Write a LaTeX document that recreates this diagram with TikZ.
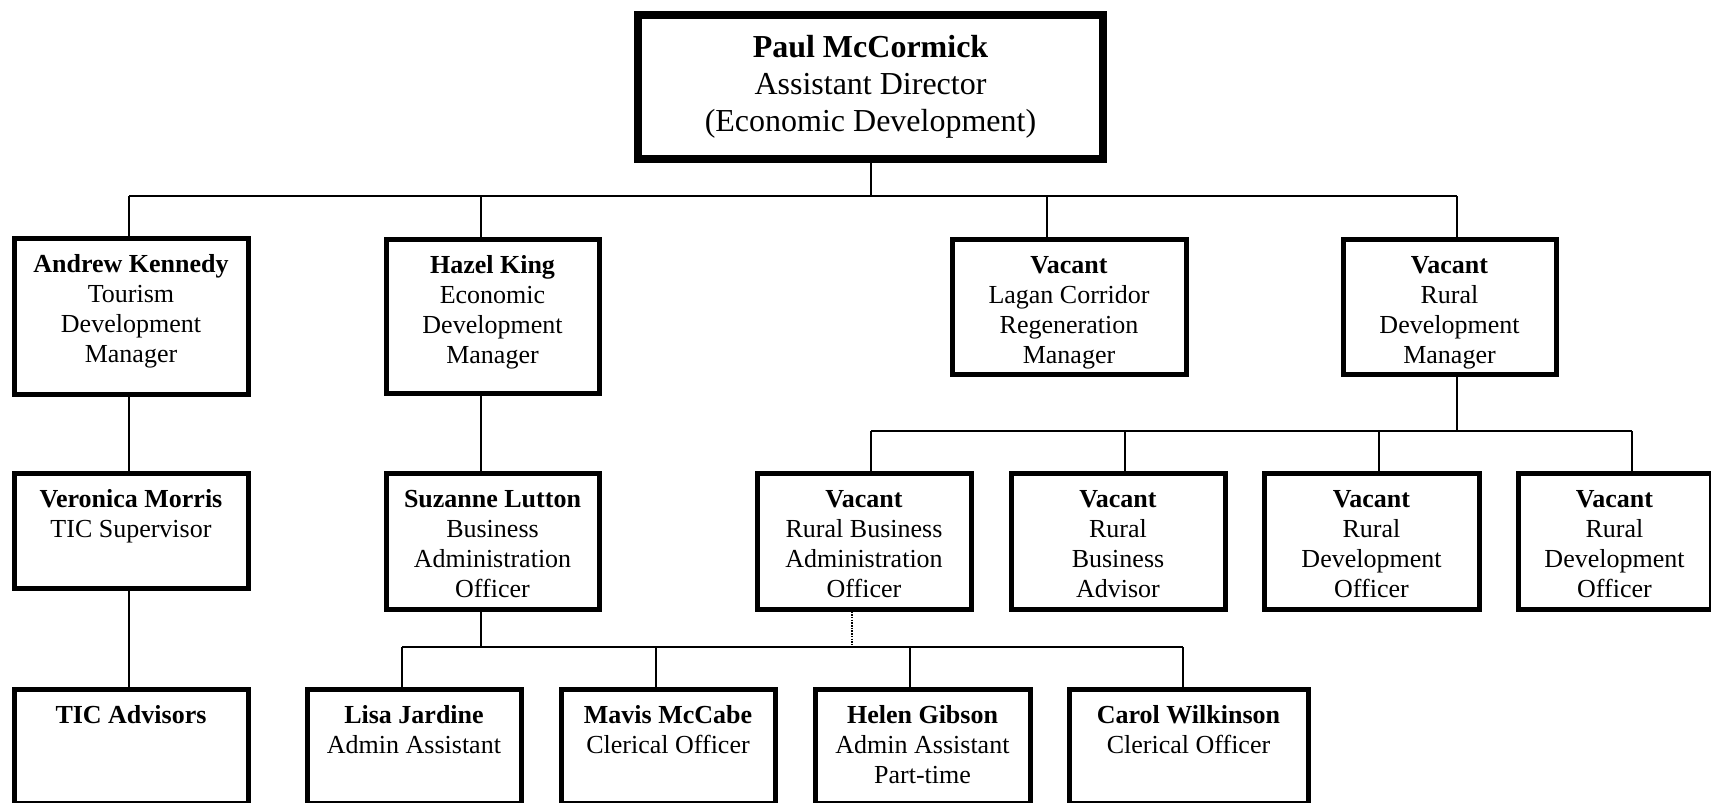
\documentclass[tikz,border=0pt]{standalone}
\usepackage{fontspec}
\setmainfont{Liberation Serif}
\newcommand{\bxt}[3]{\parbox[t][#2pt][t]{#1pt}{\centering\rule{0pt}{34pt}#3}}
\newcommand{\tbxt}[3]{\parbox[t][#2pt][t]{#1pt}{\centering\rule{0pt}{42pt}#3}}
\tikzset{
  orgbox/.style={draw, line width=5pt, inner sep=0pt, anchor=north west,
    font=\fontsize{26}{30}\selectfont},
  topbox/.style={draw, line width=8pt, inner sep=0pt, anchor=north west,
    font=\fontsize{32}{37}\selectfont},
  conn/.style={line width=1.3pt},
  dotconn/.style={line width=2pt, dash pattern=on 1.5pt off 1.2pt},
}
\begin{document}
\begin{tikzpicture}[x=1pt, y=-1pt]
\useasboundingbox (0,0) rectangle (1711,803);
% top
\node[topbox] (paul) at (634,11) {\tbxt{465}{144}{\textbf{Paul McCormick}\\Assistant Director\\(Economic Development)}};
% level 1
\node[orgbox] (andrew) at (11.5,235.5) {\bxt{234}{156}{\textbf{Andrew Kennedy}\\Tourism\\Development\\Manager}};
\node[orgbox] (hazel) at (383.5,236.5) {\bxt{213}{154}{\textbf{Hazel King}\\Economic\\Development\\Manager}};
\node[orgbox] (lagan) at (949.5,236.5) {\bxt{234}{135}{\textbf{Vacant}\\Lagan Corridor\\Regeneration\\Manager}};
\node[orgbox] (rural) at (1340.5,236.5) {\bxt{213}{135}{\textbf{Vacant}\\Rural\\Development\\Manager}};
% level 2
\node[orgbox] (veronica) at (11.5,470.5) {\bxt{234}{115}{\textbf{Veronica Morris}\\TIC Supervisor}};
\node[orgbox] (suzanne) at (383.5,470.5) {\bxt{213}{136}{\textbf{Suzanne Lutton}\\Business\\Administration\\Officer}};
\node[orgbox] (rba) at (754.5,470.5) {\bxt{214}{136}{\textbf{Vacant}\\Rural Business\\Administration\\Officer}};
\node[orgbox] (adv) at (1008.5,470.5) {\bxt{214}{136}{\textbf{Vacant}\\Rural\\Business\\Advisor}};
\node[orgbox] (rdoa) at (1261.5,470.5) {\bxt{215}{136}{\textbf{Vacant}\\Rural\\Development\\Officer}};
\node[orgbox] (rdob) at (1515.5,470.5) {\bxt{193}{136}{\textbf{Vacant}\\Rural\\Development\\Officer}};
% level 3
\node[orgbox] (tic) at (11.5,686.5) {\bxt{234}{114}{\textbf{TIC Advisors}}};
\node[orgbox] (lisa) at (304.5,686.5) {\bxt{214}{114}{\textbf{Lisa Jardine}\\Admin Assistant}};
\node[orgbox] (mavis) at (558.5,686.5) {\bxt{214}{114}{\textbf{Mavis McCabe}\\Clerical Officer}};
\node[orgbox] (helen) at (812.5,686.5) {\bxt{215}{114}{\textbf{Helen Gibson}\\Admin Assistant\\Part-time}};
\node[orgbox] (carol) at (1066.5,686.5) {\bxt{239}{114}{\textbf{Carol Wilkinson}\\Clerical Officer}};
% bus junctions
\coordinate (j0) at (871,196);
\coordinate (jA) at (129,196);
\coordinate (jH) at (481,196);
\coordinate (jL) at (1047,196);
\coordinate (jR) at (1457,196);
\coordinate (rR) at (1457,431);
\coordinate (r1) at (871,431);
\coordinate (r2) at (1125,431);
\coordinate (r3) at (1379,431);
\coordinate (r4) at (1632,431);
\coordinate (kS) at (481,647);
\coordinate (k1) at (402,647);
\coordinate (k2) at (656,647);
\coordinate (k3) at (910,647);
\coordinate (k4) at (1183,647);
\coordinate (kD) at (852,647);
% connectors level 0-1
\draw[conn] (paul.south -| j0) -- (j0);
\draw[conn] (jA) -- (jR);
\draw[conn] (jA) -- (andrew.north -| jA);
\draw[conn] (jH) -- (hazel.north -| jH);
\draw[conn] (jL) -- (lagan.north -| jL);
\draw[conn] (jR) -- (rural.north -| jR);
% tourism branch
\draw[conn] (andrew.south -| jA) -- (veronica.north -| jA);
\draw[conn] (veronica.south -| jA) -- (tic.north -| jA);
% economic branch
\draw[conn] (hazel.south -| jH) -- (suzanne.north -| jH);
\draw[conn] (suzanne.south -| kS) -- (kS);
\draw[conn] (k1) -- (k4);
\draw[conn] (k1) -- (lisa.north -| k1);
\draw[conn] (k2) -- (mavis.north -| k2);
\draw[conn] (k3) -- (helen.north -| k3);
\draw[conn] (k4) -- (carol.north -| k4);
% rural branch
\draw[conn] (rural.south -| rR) -- (rR);
\draw[conn] (r1) -- (r4);
\draw[conn] (r1) -- (rba.north -| r1);
\draw[conn] (r2) -- (adv.north -| r2);
\draw[conn] (r3) -- (rdoa.north -| r3);
\draw[conn] (r4) -- (rdob.north -| r4);
\draw[dotconn] (rba.south -| kD) -- (kD);
\end{tikzpicture}
\end{document}
